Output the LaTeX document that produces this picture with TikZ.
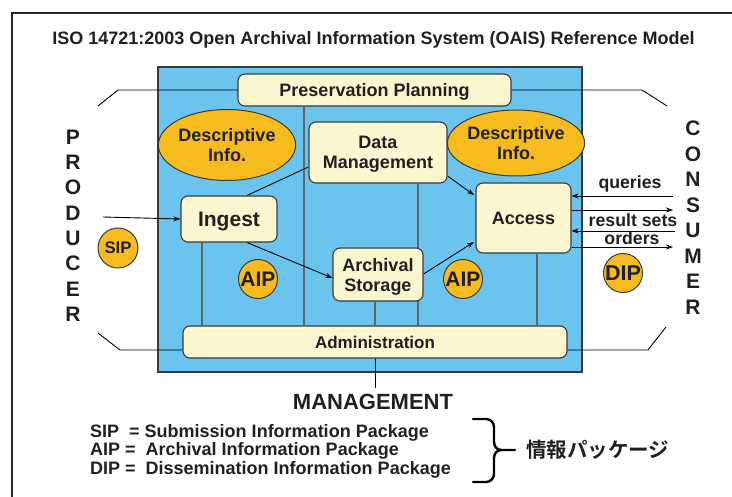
\documentclass[tikz,border=0pt]{standalone}
\usepackage{fontspec}
\setmainfont{Liberation Sans}
\newfontfamily\jpfont{Noto Sans CJK JP}[BoldFont={Noto Sans CJK JP Bold}]
\usetikzlibrary{arrows.meta,backgrounds,shapes.geometric}

\definecolor{oaisblue}{HTML}{6BC4EE}
\definecolor{cream}{HTML}{FAF7D0}
\definecolor{amber}{HTML}{F5BB1F}
\definecolor{edge}{HTML}{3A3A3A}
\definecolor{pillar}{HTML}{5F676C}
\definecolor{ink}{HTML}{231F20}

\newcommand\fsz[1]{\fontsize{#1}{20}\selectfont\bfseries}

\tikzset{
  funcbox/.style={draw=edge, line width=1.1pt, fill=cream, rounded corners=7pt,
    inner sep=0pt, align=center, text=ink, font=\fsz{18}, text depth=0pt},
  infoblob/.style={shape=ellipse, draw=edge, line width=1pt, fill=amber, inner sep=0pt,
    align=center, text=ink, font=\fsz{18}},
  pkg/.style={circle, draw=edge, line width=1pt, fill=amber, inner sep=0pt,
    minimum size=39pt, text=ink},
  pillarline/.style={draw=pillar, line width=1.8pt},
  link/.style={draw=black, line width=0.9pt},
  flow/.style={link, -{Stealth[length=7pt,width=5pt]}},
  sideletter/.style={text=ink, font=\fsz{21}},
  flowlabel/.style={text=ink, font=\fsz{17.7}},
  legend/.style={anchor=base west, inner sep=0pt, text=ink, font=\fsz{18}}
}

\begin{document}
\begin{tikzpicture}[x=1pt,y=-1pt]
\useasboundingbox (0,0) rectangle (732,497);

% page frame (top and left edges)
\draw[line width=1.4pt, draw=black!85] (12,497) -- (12,13) -- (732,13);

% title
\node[text=ink, font=\fsz{18}] (title) at (373.5,40)
  {ISO 14721:2003 Open Archival Information System (OAIS) Reference Model};

% functional entities
\node[funcbox, minimum width=273pt, minimum height=32pt] (pp) at (374.5,90) {Preservation Planning};
\node[funcbox, minimum width=138pt, minimum height=61pt] (dm) at (378,152.5) {Data\\Management};
\node[funcbox, minimum width=96pt, minimum height=46pt, font=\fsz{21}] (ing) at (229,219) {Ingest};
\node[funcbox, minimum width=95pt, minimum height=70pt] (acc) at (523.5,218) {Access};
\node[funcbox, minimum width=90pt, minimum height=53pt] (as) at (378,274.5) {Archival\\Storage};
\node[funcbox, minimum width=384pt, minimum height=32pt, font=\fsz{17}] (adm) at (375,342) {Administration};

% descriptive information
\node[infoblob, minimum width=125pt, minimum height=71pt] (di1) at (227,145) {Descriptive\\Info.};
\node[infoblob, minimum width=126pt, minimum height=66pt] (di2) at (516,143) {Descriptive\\Info.};

% information packages
\node[pkg, font=\fsz{21}] (aip1) at (258,279) {AIP};
\node[pkg, font=\fsz{21}] (aip2) at (463,279) {AIP};
\node[pkg, minimum size=40pt, font=\fsz{16.7}] (sip) at (118,248) {SIP};
\node[pkg, font=\fsz{21.5}] (dip) at (623,273) {DIP};

% producer and consumer
\foreach \ch [count=\i from 0] in {P,R,O,D,U,C,E,R}
  \node[sideletter] (prod\i) at (73,137+25.3*\i) {\ch};
\foreach \ch [count=\i from 0] in {C,O,N,S,U,M,E,R}
  \node[sideletter] (cons\i) at (693,128.5+25.5*\i) {\ch};

% management
\node[text=ink, font=\fsz{22}] (mgmt) at (373,402) {MANAGEMENT};

% exchange labels on the consumer side
\node[flowlabel] (lq) at (630,184) {queries};
\node[flowlabel] (lr) at (633,220) {result sets};
\node[flowlabel] (lo) at (632,238) {orders};

% end points outside the system
\coordinate (pin) at (103,217);
\coordinate (qsrc) at (673,196);
\coordinate (rdst) at (673,210);
\coordinate (osrc) at (675,231);
\coordinate (ddst) at (673,247);
\coordinate (plA) at (118,90);  \coordinate (plB) at (98,106);
\coordinate (prA) at (642,90);  \coordinate (prB) at (667,106);
\coordinate (alA) at (120,350); \coordinate (alB) at (98,333);
\coordinate (arA) at (648,350); \coordinate (arB) at (666,327);
\coordinate (mgtop) at (375,388);

\begin{scope}[on background layer]
  % the archive
  \draw[draw=edge, line width=1.4pt, fill=oaisblue] (158,67) rectangle (582,372);
  % links to administration
  \draw[pillarline] (ing.south -| 202,0) -- (adm.north -| 202,0);
  \draw[pillarline] (pp.south -| 304,0) -- (adm.north -| 304,0);
  \draw[pillarline] (as.south -| 375,0) -- (adm.north -| 375,0);
  \draw[pillarline] (dm.south -| 418,0) -- (adm.north -| 418,0);
  \draw[pillarline] (acc.south -| 537,0) -- (adm.north -| 537,0);
  % data flows inside the archive
  \draw[link] (ing.north -| 247,0) -- (dm.west |- 0,167);
  \draw[flow] (ing.south -| 247,0) -- (as.west |- 0,278);
  \draw[flow] (dm.east |- 0,176) -- (474,195);
  \draw[flow] (as.east |- 0,274) -- (474,242);
\end{scope}

% management link
\draw[link, line width=0.8pt] (adm.south -| 375,0) -- (mgtop);

% producer input
\draw[flow] (pin) -- (ing.west);

% consumer exchanges
\draw[flow] (qsrc) -- (acc.east |- qsrc);
\draw[flow] (acc.east |- rdst) -- (rdst);
\draw[flow] (osrc) -- (acc.east |- osrc);
\draw[flow] (acc.east |- ddst) -- (ddst);

% boundary lines of the environment
\draw[link] (pp.west) -- (plA) -- (plB);
\draw[link] (pp.east) -- (prA) -- (prB);
\draw[link] (adm.west |- alA) -- (alA) -- (alB);
\draw[link] (adm.east |- arA) -- (arA) -- (arB);

% legend
\node[legend] (leg1) at (90,437.5) {SIP\ \ = Submission Information Package};
\node[legend] (leg2) at (90,455.5) {AIP =\ \ Archival Information Package};
\node[legend] (leg3) at (90,474.5) {DIP =\ \ Dissemination Information Package};

% brace and caption
\coordinate (brtip) at (515,450);
\draw[line width=2.4pt, line cap=round, line join=round]
  (473,419) -- (486,419) to[out=0,in=90] (494,427) -- (494,442)
  to[out=-90,in=180] (501,450) -- (brtip);
\draw[line width=2.4pt, line cap=round, line join=round]
  (501,450) to[out=180,in=90] (494,458) -- (494,474)
  to[out=-90,in=0] (486,482) -- (473,482);
\node[text=ink, font={\jpfont\fontsize{20.5}{22}\selectfont\bfseries}, anchor=west, inner sep=0pt]
  (jp) at (526,450) {情報パッケージ};
\end{tikzpicture}
\end{document}
